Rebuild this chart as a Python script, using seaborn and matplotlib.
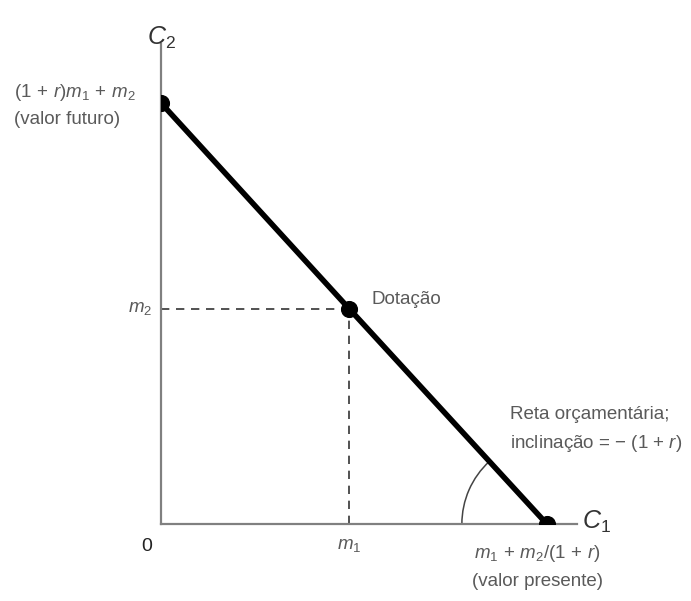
import numpy as np
import pandas as pd
import matplotlib
matplotlib.use("Agg")
import matplotlib.pyplot as plt
import seaborn as sns
from matplotlib.patches import Arc

# budget line: future value, endowment, present value
c1_pts = [0.0, 4.0, 8.2]
c2_pts = [9.0, 4.6, 0.0]
m1, m2 = 4.0, 4.6

sns.set_theme(style="white")
plt.rcParams["font.family"] = ["Liberation Sans", "DejaVu Sans"]
plt.rcParams["mathtext.fontset"] = "custom"
plt.rcParams["mathtext.rm"] = "Liberation Sans"
plt.rcParams["mathtext.it"] = "Liberation Sans:italic"

txt = "#5a5a5a"
fs = 13.5

fig = plt.figure(figsize=(6.91, 6.01), dpi=100)
ax = fig.add_axes([161 / 691, 77 / 601, 416 / 691, 480 / 601])

df = pd.DataFrame({"C1": c1_pts, "C2": c2_pts})
sns.lineplot(data=df, x="C1", y="C2", color="black", linewidth=4, ax=ax)
sns.scatterplot(data=df, x="C1", y="C2", color="black", s=130, ax=ax,
                zorder=5, edgecolor="black")

# dashed guides to the endowment
ax.plot([0, m1], [m2, m2], ls=(0, (5, 4)), color="#333333", lw=1.2)
ax.plot([m1, m1], [0, m2], ls=(0, (5, 4)), color="#333333", lw=1.2)

ax.set_xlim(0, 8.84)
ax.set_ylim(0, 10.26)
ax.set_xlabel("")
ax.set_ylabel("")
ax.set_xticks([])
ax.set_yticks([])
for s in ["top", "right"]:
    ax.spines[s].set_visible(False)
for s in ["left", "bottom"]:
    ax.spines[s].set_color("#808080")
    ax.spines[s].set_linewidth(1.6)

# slope angle arc at the present-value end
sx = 416 / 8.84
sy = 480 / 10.26
r_px = 85
ang = np.degrees(np.arctan2(c2_pts[0] * sy, c1_pts[2] * sx))
ax.add_patch(Arc((c1_pts[2], 0), 2 * r_px / sx, 2 * r_px / sy,
                 theta1=180 - ang, theta2=180, color="#444444", lw=1.1))

kw = dict(color=txt, fontsize=fs, clip_on=False)
ax.text(0, 10.39, "$C_2$", ha="center", va="center", fontsize=18, color="#333333")
ax.text(8.94, 0.04, "$C_1$", ha="left", va="center", fontsize=18, color="#333333")
ax.text(-3.12, 9.23, "$(1\\,+\\,r)m_1\\,+\\,m_2$", ha="left", va="center", **kw)
ax.text(-3.12, 8.64, "(valor futuro)", ha="left", va="center", **kw)
ax.text(-0.19, m2, "$m_2$", ha="right", va="center", **kw)
ax.text(4.47, 4.79, "Dotação", ha="left", va="center", **kw)
ax.text(-0.30, -0.49, "0", ha="center", va="center", fontsize=14, color="#222222")
ax.text(m1, -0.47, "$m_1$", ha="center", va="center", **kw)
ax.text(8.0, -0.62, "$m_1\\,+\\,m_2/(1\\,+\\,r)$", ha="center", va="center", **kw)
ax.text(8.0, -1.22, "(valor presente)", ha="center", va="center", **kw)
ax.text(7.41, 2.33, "Reta orçamentária;", ha="left", va="center", **kw)
ax.text(7.41, 1.73, "inclinação = − (1 + $r$)", ha="left", va="center", **kw)

fig.savefig("out.png", dpi=100)
